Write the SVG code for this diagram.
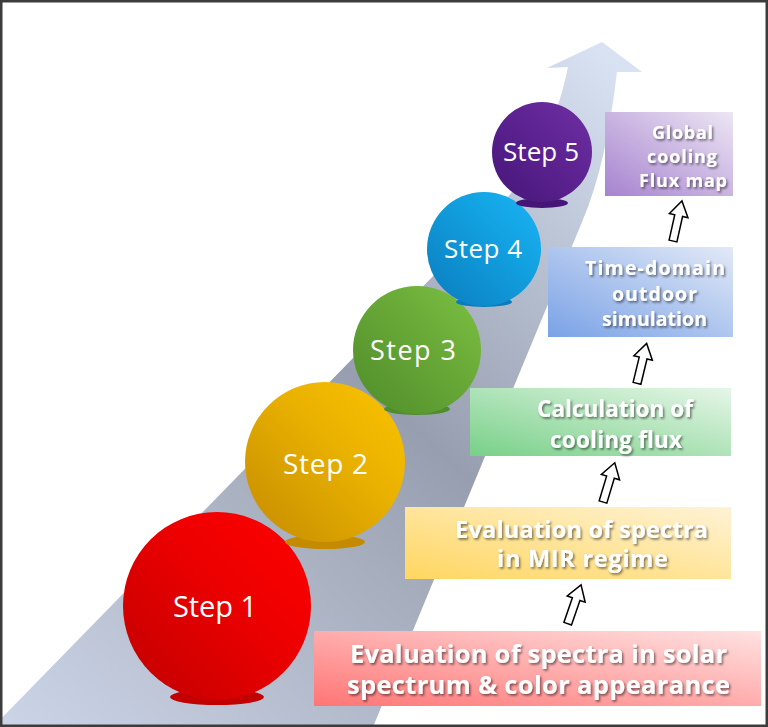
<svg xmlns="http://www.w3.org/2000/svg" width="768" height="727" viewBox="0 0 768 727">
  <defs>
    <linearGradient id="band" gradientUnits="userSpaceOnUse" x1="0" y1="727" x2="600" y2="50">
      <stop offset="0" stop-color="#ccd5e8"/>
      <stop offset="0.4" stop-color="#a7aebe"/>
      <stop offset="0.55" stop-color="#979eaf"/>
      <stop offset="0.75" stop-color="#b3bccd"/>
      <stop offset="1" stop-color="#d8e2f3"/>
    </linearGradient>
    <linearGradient id="g1" x1="0" y1="1" x2="1" y2="0"><stop offset="0" stop-color="#c00000"/><stop offset="0.6" stop-color="#ee0000"/><stop offset="1" stop-color="#ff0000"/></linearGradient>
    <linearGradient id="g2" x1="0" y1="1" x2="1" y2="0"><stop offset="0" stop-color="#c48b00"/><stop offset="0.6" stop-color="#eab200"/><stop offset="1" stop-color="#fac400"/></linearGradient>
    <linearGradient id="g3" x1="0" y1="1" x2="1" y2="0"><stop offset="0" stop-color="#4f8c2a"/><stop offset="0.6" stop-color="#6aaa38"/><stop offset="1" stop-color="#7cc242"/></linearGradient>
    <linearGradient id="g4" x1="0" y1="1" x2="1" y2="0"><stop offset="0" stop-color="#0a7cbd"/><stop offset="0.6" stop-color="#12a0e0"/><stop offset="1" stop-color="#1ab4f4"/></linearGradient>
    <linearGradient id="g5" x1="0" y1="1" x2="1" y2="0"><stop offset="0" stop-color="#451678"/><stop offset="0.6" stop-color="#5f2494"/><stop offset="1" stop-color="#7030a0"/></linearGradient>
    <linearGradient id="b1" x1="0" y1="1" x2="1" y2="0"><stop offset="0" stop-color="#ff7575"/><stop offset="1" stop-color="#ffe2e2"/></linearGradient>
    <linearGradient id="b2" x1="0" y1="1" x2="1" y2="0"><stop offset="0" stop-color="#ffd660"/><stop offset="1" stop-color="#fff3d6"/></linearGradient>
    <linearGradient id="b3" x1="0" y1="1" x2="1" y2="0"><stop offset="0" stop-color="#78d088"/><stop offset="1" stop-color="#e6f6e8"/></linearGradient>
    <linearGradient id="b4" x1="0" y1="1" x2="1" y2="0"><stop offset="0" stop-color="#7aa2e6"/><stop offset="1" stop-color="#e2e9f7"/></linearGradient>
    <linearGradient id="b5" x1="0" y1="1" x2="1" y2="0"><stop offset="0" stop-color="#a683cf"/><stop offset="1" stop-color="#ede6f4"/></linearGradient>
    <filter id="sh" x="-10%" y="-30%" width="120%" height="160%">
      <feDropShadow dx="1.5" dy="1.8" stdDeviation="1" flood-color="#000" flood-opacity="0.5"/>
    </filter>
    <path id="harrow" d="M-4,0 L4,0 L4,-26 L9.5,-26 L0,-41 L-9.5,-26 L-4,-26 Z"/>
  </defs>
  <style>
    .step{font-family:"Open Sans","Noto Sans","DejaVu Sans",sans-serif;fill:#fff;text-anchor:middle}
    .box text{font-family:"Open Sans","Noto Sans","DejaVu Sans",sans-serif;font-weight:bold;fill:#fff;text-anchor:middle;filter:url(#sh)}
    .arr{fill:#fff;stroke:#000;stroke-width:1.5;stroke-linejoin:miter}
  </style>
  <rect x="0" y="0" width="768" height="727" fill="#fff"/>
  <path id="bigarrow" d="M-7,727 L480,228 C530,178 555,130 568,67 L547,68 L602,42 L642,72 L617,72 C610,130 600,180 582,222 L373,727 Z" fill="url(#band)"/>

  <g id="step1">
    <ellipse cx="217" cy="697" rx="47" ry="8" fill="#c20000"/>
    <circle cx="217" cy="606" r="94" fill="url(#g1)"/>
    <text class="step" x="215" y="617" font-size="29" textLength="84">Step 1</text>
  </g>
  <g id="step2">
    <ellipse cx="325" cy="542" rx="40" ry="7" fill="#c48b00"/>
    <circle cx="325" cy="462" r="80" fill="url(#g2)"/>
    <text class="step" x="325.5" y="474" font-size="28" textLength="85">Step 2</text>
  </g>
  <g id="step3">
    <ellipse cx="417" cy="409" rx="33" ry="6" fill="#4f8c2a"/>
    <circle cx="417" cy="350" r="64" fill="url(#g3)"/>
    <text class="step" x="413" y="360" font-size="27" textLength="86">Step 3</text>
  </g>
  <g id="step4">
    <ellipse cx="484" cy="302" rx="28" ry="5" fill="#0a7cbd"/>
    <circle cx="484" cy="249" r="57" fill="url(#g4)"/>
    <text class="step" x="483" y="258" font-size="26" textLength="78">Step 4</text>
  </g>
  <g id="step5">
    <ellipse cx="542" cy="203" rx="26" ry="5" fill="#451678"/>
    <circle cx="542" cy="152" r="50" fill="url(#g5)"/>
    <text class="step" x="541" y="161" font-size="26" textLength="76">Step 5</text>
  </g>

  <g id="box1" class="box">
    <rect x="314" y="631" width="447" height="75" fill="url(#b1)"/>
    <text x="538.5" y="663" font-size="25.5" textLength="377">Evaluation of spectra in solar</text>
    <text x="538.5" y="694" font-size="25.5" textLength="383">spectrum &amp; color appearance</text>
  </g>
  <g id="box2" class="box">
    <rect x="405" y="507" width="326" height="72" fill="url(#b2)"/>
    <text x="581.5" y="538" font-size="23.5" textLength="253">Evaluation of spectra</text>
    <text x="582.5" y="567" font-size="23.5" textLength="171">in MIR regime</text>
  </g>
  <g id="box3" class="box">
    <rect x="470" y="388" width="261" height="68" fill="url(#b3)"/>
    <text x="615" y="417" font-size="22.5" textLength="156">Calculation of</text>
    <text x="616" y="448" font-size="22.5" textLength="132">cooling flux</text>
  </g>
  <g id="box4" class="box">
    <rect x="548" y="247" width="185" height="90" fill="url(#b4)"/>
    <text x="655" y="275" font-size="19.5" textLength="140">Time-domain</text>
    <text x="654.5" y="300.5" font-size="19.5" textLength="85">outdoor</text>
    <text x="654.5" y="326" font-size="19.5" textLength="105">simulation</text>
  </g>
  <g id="box5" class="box">
    <rect x="605" y="112" width="128" height="84" fill="url(#b5)"/>
    <text x="682.5" y="139" font-size="18" textLength="61">Global</text>
    <text x="682" y="162.5" font-size="18" textLength="70">cooling</text>
    <text x="683" y="187" font-size="18" textLength="88">Flux map</text>
  </g>

  <g id="connectors">
    <use href="#harrow" class="arr" transform="translate(567.7,623.7) rotate(19)"/>
    <use href="#harrow" class="arr" transform="translate(603,502) rotate(16.7)"/>
    <use href="#harrow" class="arr" transform="translate(637,383.3) rotate(13.6)"/>
    <use href="#harrow" class="arr" transform="translate(673,241) rotate(12.6)"/>
  </g>

  <rect x="1.25" y="1.25" width="765.5" height="724.5" fill="none" stroke="#3c3c3c" stroke-width="2.5"/>
</svg>
